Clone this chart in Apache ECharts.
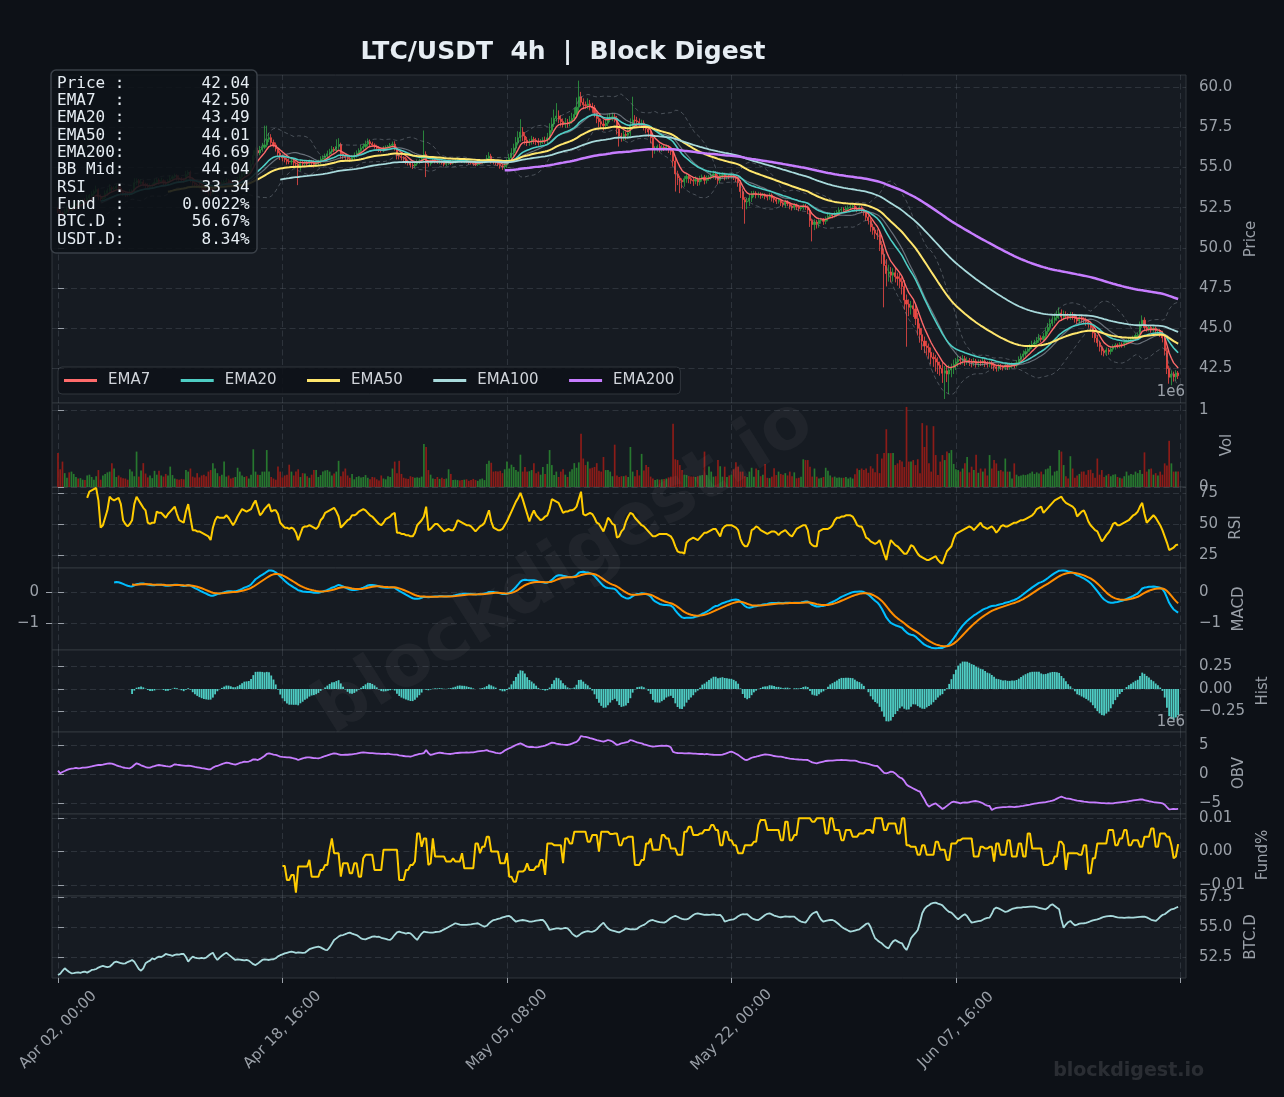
<!DOCTYPE html>
<html><head><meta charset="utf-8">
<script src="https://cdn.jsdelivr.net/npm/echarts/dist/echarts.min.js"></script>
<style>html,body{margin:0;padding:0;background:#0d1117;}#c{width:1284px;height:1097px;}</style>
</head><body><div id="c"></div>
<script>
// ---------------- DATA ----------------
const firstOpen = 52.40;
const closes = [
52.30,52.15,52.10,52.25,52.40,52.35,52.50,52.60,52.72,52.68,
52.85,52.95,52.92,53.10,53.25,53.35,53.50,53.62,53.18,53.05,
53.12,53.38,53.55,53.74,53.66,53.71,53.82,53.69,53.48,53.40,
53.35,53.31,53.44,53.52,54.05,54.18,54.02,54.10,53.96,53.88,
53.80,53.84,53.92,54.06,54.21,54.12,54.18,54.04,54.00,54.15,
54.30,54.42,54.48,54.35,54.28,54.22,54.20,54.55,54.70,54.30,
54.05,53.95,53.90,53.80,53.70,53.62,53.55,53.45,53.42,53.65,
53.92,54.05,54.01,54.06,54.12,54.18,54.08,54.00,53.94,54.05,
54.25,54.40,54.58,54.72,54.68,54.80,55.20,55.75,56.05,55.90,
56.10,56.25,56.40,56.75,56.85,56.55,56.40,56.15,55.90,55.70,
55.60,55.50,55.38,55.35,55.40,55.28,55.22,55.00,55.30,55.25,
55.32,55.25,55.38,55.30,55.20,55.26,55.35,55.52,55.60,55.70,
55.85,55.98,56.12,56.05,56.30,56.42,55.85,55.70,55.62,55.55,
55.50,55.62,55.75,55.90,56.05,56.20,56.30,56.45,56.60,56.48,
56.40,56.32,56.20,56.10,56.05,56.18,56.25,56.30,56.38,56.45,
56.20,55.75,55.70,55.62,55.55,55.40,55.30,55.15,55.10,55.22,
55.35,55.42,55.55,55.80,55.30,55.25,55.38,55.45,55.40,55.32,
55.36,55.28,55.20,55.25,55.30,55.27,55.35,55.40,55.50,55.45,
55.38,55.42,55.35,55.30,55.28,55.22,55.18,55.25,55.30,55.35,
55.40,55.55,55.70,55.42,55.35,55.28,55.20,55.10,55.05,55.15,
55.35,55.60,55.90,56.20,56.55,56.85,57.20,56.95,56.70,56.55,
56.60,56.75,56.70,56.62,56.55,56.60,56.70,56.68,56.85,57.30,
57.70,58.05,58.20,58.00,57.85,57.70,57.80,57.75,57.90,58.05,
58.30,58.75,59.40,59.05,58.90,58.85,58.95,58.80,58.70,58.40,
58.05,57.85,57.70,57.60,57.75,58.00,58.10,58.15,58.05,57.40,
56.95,56.90,57.05,57.00,57.15,57.60,57.95,57.90,57.85,57.70,
57.75,57.55,57.40,57.20,56.85,56.10,56.20,56.30,56.15,56.25,
56.20,56.28,56.10,56.00,55.40,54.60,54.35,54.20,54.10,54.30,
54.45,54.30,54.20,54.15,54.25,54.10,54.30,54.40,54.20,54.35,
54.40,54.50,54.60,54.45,54.20,54.50,54.55,54.40,54.48,54.45,
54.52,54.40,54.30,54.05,53.50,53.00,52.85,52.90,53.10,53.35,
53.40,53.30,53.35,53.25,53.30,53.20,53.15,53.28,53.10,53.00,
52.90,52.95,52.80,52.70,52.85,52.75,52.60,52.50,52.65,52.55,
52.45,52.50,52.60,52.55,52.35,51.70,51.45,51.60,51.50,51.70,
51.75,51.65,51.80,51.95,52.05,52.00,52.10,52.20,52.35,52.40,
52.35,52.45,52.50,52.55,52.60,52.45,52.40,52.50,52.35,52.20,
51.90,51.70,51.30,51.10,50.90,50.80,50.20,49.60,48.90,48.40,
48.50,48.30,48.45,48.20,48.10,47.90,47.60,46.75,46.50,46.30,
46.40,46.20,45.60,45.00,44.60,44.20,43.90,43.80,43.50,43.20,
43.10,42.90,42.70,42.50,42.20,42.35,42.15,42.40,42.55,42.75,
42.90,43.05,43.00,43.10,42.95,43.00,42.90,42.85,42.95,42.80,
42.90,42.85,42.95,42.80,42.75,42.85,42.70,42.60,42.50,42.65,
42.60,42.55,42.70,42.58,42.65,42.75,42.70,42.85,43.05,43.25,
43.40,43.55,43.70,43.85,44.00,44.10,44.25,44.40,44.30,44.50,
44.80,45.05,45.30,45.50,45.65,45.80,45.95,45.70,45.85,45.75,
45.70,45.80,45.75,45.60,45.45,45.65,45.55,45.50,45.40,45.25,
45.05,44.70,44.40,44.10,43.85,43.60,43.50,43.65,43.55,43.70,
43.85,43.95,43.90,44.00,43.95,44.10,44.20,44.25,44.30,44.40,
44.55,44.60,45.20,45.50,45.05,44.95,45.05,44.90,45.00,44.85,
44.85,44.70,44.40,43.60,42.50,41.95,42.15,41.98,42.22,42.04];
// upper / lower wick length beyond the candle body, in cents
const wickUp = [
12,18,9,15,22,8,14,11,20,10, 16,9,13,21,10,17,12,25,8,14, 11,19,15,22,9,13,18,10,16,12, 8,14,20,11,28,15,10,18,12,9,
13,17,10,22,14,11,19,8,15,12, 20,10,14,9,16,12,11,24,13,10, 9,15,11,13,10,12,16,9,11,18, 22,13,10,15,12,17,9,11,14,10,
16,20,14,12,18,15,26,32,20,18, 24,28,120,85,30,22,18,15,12,14, 10,12,9,18,14,11,10,9,20,13, 12,15,11,9,14,10,13,18,15,16,
20,18,22,15,45,40,12,10,14,9, 11,15,18,16,14,20,18,22,20,14, 12,10,9,13,11,15,12,10,14,16, 18,10,9,12,8,10,9,11,14,12,
15,12,18,150,20,12,10,14,9,8, 10,9,8,11,12,9,10,14,12,9, 8,10,9,7,10,8,9,11,10,12, 9,22,25,15,10,12,8,9,10,14,
20,25,30,28,35,40,80,30,25,20, 18,22,15,14,20,16,18,22,30,45, 40,55,80,35,25,20,28,22,30,35, 40,60,100,30,25,20,35,25,22,18,
15,20,18,25,22,30,28,25,20,15, 18,20,25,15,30,45,145,30,25,20, 22,18,15,12,10,15,14,12,18,15, 12,14,10,12,15,18,20,14,12,16,
18,14,12,15,20,12,18,16,14,15, 12,18,20,15,12,16,14,12,15,10, 12,10,9,14,18,20,15,22,25,18, 15,12,14,10,12,9,11,15,10,12,
9,12,10,8,14,11,10,9,13,10, 12,10,14,12,9,15,12,18,14,16, 12,10,15,18,14,12,16,15,18,14, 12,15,14,12,10,9,12,14,10,9,
10,12,15,20,18,25,30,22,35,40, 45,30,28,35,25,30,28,40,35,30, 30,28,25,35,30,40,28,32,25,30, 28,25,30,22,35,30,28,32,25,30,
25,22,20,24,18,20,15,18,20,14, 16,14,18,12,15,14,12,15,10,14, 12,10,15,12,14,12,10,16,20,18, 22,18,20,16,22,18,20,25,15,20,
25,28,30,25,28,30,35,22,25,20, 18,22,20,15,18,20,15,14,16,12, 14,12,15,18,12,10,14,16,12,15, 14,12,10,13,12,14,11,12,10,14,
12,15,22,30,18,15,12,14,12,10, 12,10,14,15,20,18,22,15,18,12];
const wickDn = [
14,10,20,9,12,16,8,18,11,13, 10,15,12,8,14,9,13,10,22,16, 12,9,15,11,18,10,14,12,20,15, 18,12,9,15,10,14,20,11,13,16,
15,10,13,9,12,18,11,15,10,14, 12,14,9,16,11,13,15,10,12,22, 18,13,15,10,14,12,15,18,20,11, 10,12,14,9,11,13,15,12,18,10,
12,10,13,15,11,14,12,10,15,18, 14,12,10,15,18,22,15,16,20,24, 22,18,20,15,18,22,25,110,20,18, 15,18,12,16,20,14,12,15,10,12,
10,12,14,11,12,15,30,20,18,15, 16,12,10,14,12,11,10,12,15,14, 12,15,16,14,12,10,11,12,14,10, 15,25,20,18,15,20,18,16,20,12,
12,14,10,15,90,20,14,12,15,10, 12,10,14,11,10,12,9,10,12,11, 10,12,9,11,10,12,10,9,10,8, 10,12,15,18,16,14,12,18,20,15,
18,15,14,20,22,18,25,30,28,22, 20,18,25,22,20,18,15,20,18,14, 15,18,20,25,30,22,25,28,20,18, 15,18,22,25,28,20,22,25,30,28,
30,35,28,30,25,20,18,22,25,35, 65,30,25,28,22,20,25,28,30,25, 22,25,28,30,35,50,25,22,20,18, 18,16,20,22,35,110,45,80,40,30,
25,28,22,30,20,25,22,18,25,20, 18,15,20,22,25,18,16,20,15,18, 15,18,20,25,40,60,135,45,30,25, 20,22,18,20,15,18,20,16,22,20,
18,15,20,18,22,16,20,18,15,20, 18,15,14,18,25,40,105,35,30,25, 20,22,18,15,14,16,12,15,14,12, 14,12,15,14,12,15,18,14,16,20,
22,25,30,28,35,30,40,60,260,80, 50,45,40,35,45,40,50,60,265,55, 45,50,40,45,50,55,45,50,40,45, 50,60,55,45,60,160,50,125,45,40,
35,30,28,25,30,22,25,28,20,25, 22,20,18,22,20,18,22,25,20,18, 20,18,15,18,16,15,18,14,12,15, 14,16,12,15,14,16,12,15,18,14,
15,18,20,16,20,18,22,25,20,18, 20,18,22,25,20,18,22,20,25,22, 25,30,28,25,30,28,25,22,20,18, 16,18,15,14,16,15,14,12,14,12,
14,12,15,18,20,16,15,18,14,20, 22,25,28,30,35,40,50,30,25,20];
// volume, thousands of LTC
const volK = [
440,230,330,180,120,190,200,170,130,110, 115,95,90,150,160,130,95,140,220,95, 150,170,190,200,310,240,130,150,125,115, 110,95,230,200,140,460,135,215,310,175,
125,150,115,210,160,210,150,135,170,150, 265,155,110,100,95,105,100,220,200,240, 135,125,180,125,150,160,140,200,220,310, 240,180,140,160,330,135,150,110,120,130,
250,200,150,130,140,110,160,490,200,160, 155,200,200,480,200,130,110,95,265,200, 125,150,160,290,200,150,200,230,130,180, 175,140,120,160,220,220,130,155,200,215,
220,200,150,175,200,340,140,200,240,150, 120,170,100,130,140,125,130,155,120,100, 130,125,100,85,150,110,100,140,130,240, 330,180,340,170,120,110,105,140,130,120,
125,120,135,560,520,220,160,110,105,130, 105,120,105,110,230,170,90,95,90,85, 90,95,100,80,90,105,90,80,100,110, 90,300,340,315,200,205,200,210,180,230,
330,240,290,260,220,200,420,200,260,200, 205,220,310,180,200,160,260,170,300,480, 285,155,200,130,200,230,160,130,200,230, 310,250,320,690,370,285,330,240,250,260,
310,210,200,390,220,220,200,140,550,150, 130,140,140,150,130,520,200,140,220,150, 430,215,285,260,135,110,90,100,95,100, 105,110,125,135,820,360,350,285,220,160,
155,140,135,135,130,140,150,155,460,155, 265,200,134,140,350,270,134,264,130,150, 160,230,320,264,200,200,140,130,200,250, 134,240,220,140,160,300,120,115,134,245,
155,200,170,160,180,150,200,140,190,113, 120,134,360,350,350,264,135,240,134,110, 120,130,250,210,150,125,135,120,125,120, 120,130,110,125,110,165,240,220,240,220,
240,185,270,240,190,430,180,370,440,750, 440,440,440,285,307,350,330,260,1040,330, 330,350,285,360,180,830,520,800,307,200, 790,415,156,330,415,350,460,440,480,300,
230,220,200,240,307,390,190,264,220,420, 185,240,200,240,150,415,240,350,307,210, 220,200,370,200,200,110,307,160,140,150, 160,155,165,180,200,170,190,175,200,165,
230,240,275,150,200,210,480,460,285,140, 110,400,240,120,150,170,200,200,160,220, 225,180,120,370,160,220,130,150,170,140, 160,165,130,120,110,140,200,150,170,160,
200,180,220,170,450,200,230,240,160,180, 150,200,160,307,280,600,307,200,200,200];
// RSI(14), first value at candle 13
const rsiStart = 13;
const rsiVals = [
71,76,77,78,79,69,47,
49,55,61,72,70,69,70,71,66,53, 50,48,50,53,66,72,69,66,63,61, 51,50,51,51,60,59,59,57,55,58, 60,62,64,58,53,52,51,60,66,55,
45,45,44,44,43,42,41,40,37,47, 53,56,55,55,55,57,55,52,49,52, 56,59,62,61,60,61,62,66,69,63, 57,59,62,64,66,60,61,61,58,51,
49,47,47,46,47,46,43,37,42,47, 48,48,49,48,47,46,48,53,55,59, 60,61,62,63,60,56,47,49,51,53, 54,57,57,58,60,61,62,61,59,57,
56,54,52,50,49,51,54,55,56,58, 59,43,43,42,42,41,41,40,40,43, 49,51,53,56,64,45,46,48,50,50, 48,46,44,45,46,45,45,48,53,52,
51,50,49,49,48,46,44,46,48,49, 51,56,61,52,47,46,45,45,46,49, 52,56,60,64,68,71,75,70,64,58, 52,57,61,57,55,53,54,56,57,62,
70,69,68,67,63,59,60,60,61,61, 62,64,70,76,58,57,58,59,58,55, 51,50,47,44,49,55,53,50,49,39, 40,44,46,52,56,59,58,55,53,51,
49,48,46,44,42,40,40,41,42,42, 42,42,41,40,37,32,28,27,27,26, 35,37,38,39,38,37,39,41,43,43, 44,45,46,46,43,40,46,48,49,49,
49,48,47,45,38,34,32,32,36,45, 46,48,47,45,44,43,42,43,44,44, 43,41,43,44,45,43,41,40,43,46, 47,48,49,49,45,35,33,32,32,44,
45,46,46,46,47,49,53,55,55,56, 56,57,57,57,56,53,49,48,48,44, 39,38,36,35,34,35,37,32,26,21, 30,37,35,33,32,30,28,26,26,29,
33,32,29,26,24,23,22,21,21,22, 23,24,21,19,18,23,28,30,32,38, 42,43,44,45,46,47,48,47,45,47, 49,51,48,47,46,47,48,46,43,45,
48,49,48,48,49,50,51,51,52,53, 53,54,55,56,57,59,62,63,64,59, 61,63,65,67,69,70,71,72,69,67, 66,65,64,62,56,58,60,61,57,52,
49,47,45,44,40,36,38,41,43,46, 50,51,49,49,50,51,52,53,55,57, 58,60,64,67,58,51,53,55,57,55, 52,49,45,40,35,29,30,31,33,33.34];
// OBV, millions
const obvM = [
0.57,0.11,0.35,0.52,0.70,0.85,0.92,0.98,1.05,0.95, 1.02,1.10,1.08,1.15,1.22,1.30,1.40,1.48,1.55,1.55, 1.62,1.70,1.78,1.84,1.80,1.67,1.50,1.35,1.25,1.12, 1.05,1.00,0.98,1.20,1.55,1.84,1.70,1.50,1.35,1.20,
1.10,1.09,1.25,1.35,1.48,1.55,1.50,1.42,1.35,1.30, 1.26,1.45,1.67,1.60,1.55,1.50,1.45,1.38,1.45,1.38, 1.30,1.22,1.15,1.08,1.00,0.95,0.88,0.80,0.82,1.10, 1.30,1.38,1.55,1.70,1.85,1.95,1.90,1.80,1.70,1.61,
1.75,1.90,2.00,2.13,2.08,2.15,2.30,2.53,2.50,2.41, 2.60,2.85,3.10,3.45,3.56,3.45,3.35,3.28,3.15,2.99, 2.95,2.92,2.88,2.87,2.80,2.70,2.60,2.41,2.55,2.70, 2.80,2.87,2.85,2.80,2.75,2.72,2.70,2.80,2.95,3.10,
3.20,3.35,3.45,3.56,3.50,3.40,3.28,3.30,3.35,3.32, 3.36,3.39,3.45,3.52,3.60,3.68,3.74,3.70,3.65,3.60, 3.58,3.56,3.52,3.50,3.48,3.46,3.45,3.50,3.42,3.38, 3.35,3.33,3.20,3.15,3.10,3.05,3.02,2.99,3.10,3.25,
3.35,3.45,3.50,3.60,4.14,3.60,3.28,3.40,3.50,3.60, 3.68,3.62,3.55,3.50,3.48,3.45,3.52,3.58,3.62,3.66, 3.68,3.70,3.72,3.70,3.72,3.74,3.80,3.88,3.95,4.00, 4.02,4.10,3.95,3.85,3.75,3.65,3.58,3.56,3.75,4.05,
4.25,4.43,4.60,4.80,5.00,5.15,5.29,5.10,4.90,4.71, 4.65,4.68,4.62,4.60,4.65,4.72,4.80,4.89,5.05,5.25, 5.40,5.35,5.25,5.17,5.10,5.05,5.02,5.00,5.10,5.25, 5.40,5.55,5.90,6.55,6.45,6.40,6.32,6.20,6.10,5.98,
5.85,5.75,5.65,5.57,5.70,5.86,5.75,5.60,5.30,5.00, 5.10,5.29,5.35,5.45,5.55,5.86,5.75,5.60,5.45,5.35, 5.29,5.10,5.00,4.90,4.80,4.71,4.75,4.80,4.85,4.89, 4.85,4.89,4.80,4.60,3.80,3.68,3.62,3.60,3.58,3.56,
3.56,3.58,3.56,3.52,3.50,3.48,3.45,3.45,3.40,3.45, 3.40,3.35,3.32,3.30,3.28,3.28,3.35,3.45,3.60,3.75, 3.85,3.70,3.50,3.30,3.00,2.70,2.45,2.41,2.60,2.80, 2.90,2.99,3.10,3.20,3.30,3.39,3.35,3.30,3.20,3.10,
3.05,3.00,2.99,2.90,2.80,2.72,2.65,2.60,2.55,2.53, 2.50,2.48,2.45,2.42,2.41,2.20,2.00,1.90,1.84,1.95, 2.05,2.15,2.24,2.28,2.30,2.32,2.35,2.38,2.40,2.41, 2.40,2.38,2.35,2.32,2.30,2.30,2.20,2.05,1.95,1.90,
1.84,1.75,1.60,1.50,1.40,1.38,1.00,0.60,0.20,0.11, 0.25,0.40,0.35,0.10,-0.30,-0.60,-0.75,-1.20,-1.80,-2.10, -2.30,-2.50,-2.70,-2.90,-3.05,-3.80,-4.40,-5.20,-5.63,-5.40, -5.20,-5.06,-5.40,-5.70,-6.03,-5.80,-5.50,-5.20,-4.90,-4.77,
-4.85,-4.95,-5.05,-4.95,-4.90,-4.94,-4.85,-4.75,-4.70,-4.66, -4.75,-4.90,-5.05,-5.30,-5.45,-5.52,-6.21,-6.00,-5.85,-5.80, -5.75,-5.72,-5.70,-5.68,-5.65,-5.66,-5.70,-5.65,-5.63,-5.55, -5.48,-5.40,-5.35,-5.28,-5.20,-5.12,-5.06,-5.00,-4.95,-4.90,
-4.85,-4.75,-4.68,-4.60,-4.45,-4.25,-4.05,-3.91,-4.05,-4.20, -4.25,-4.31,-4.40,-4.50,-4.60,-4.65,-4.70,-4.77,-4.80,-4.85, -4.88,-4.90,-4.92,-4.94,-4.98,-5.02,-5.04,-5.06,-5.05,-5.06, -5.06,-5.00,-4.95,-4.90,-4.85,-4.80,-4.77,-4.70,-4.62,-4.55,
-4.50,-4.45,-4.40,-4.37,-4.50,-4.60,-4.70,-4.77,-4.85,-4.90, -4.95,-5.00,-5.06,-5.30,-5.70,-6.09,-6.05,-6.00,-6.05,-6.03];
// BTC dominance, %
const btcDom = [
51.00,51.10,51.35,51.56,51.40,51.25,51.14,51.15,51.20,51.22, 51.18,51.25,51.28,51.20,51.30,51.42,51.45,51.50,51.62,51.70, 51.75,51.70,51.65,51.69,51.85,52.05,52.11,52.05,51.98,51.95, 51.97,52.08,52.15,52.25,52.10,51.80,51.50,51.36,51.55,51.97,
52.10,52.20,52.39,52.30,52.45,52.53,52.50,52.60,52.75,52.70, 52.65,52.60,52.67,52.72,52.70,52.75,52.75,52.50,52.11,52.35, 52.53,52.45,52.40,52.38,52.42,52.39,52.45,52.60,52.75,52.86, 52.50,52.25,52.45,52.60,52.75,52.86,52.70,52.55,52.40,52.25,
52.30,52.28,52.25,52.22,52.25,52.20,52.05,51.90,51.83,51.95, 52.10,52.25,52.30,52.28,52.25,52.30,52.31,52.40,52.55,52.65, 52.72,52.80,52.85,52.90,52.94,52.90,52.85,52.88,52.86,52.84, 52.86,53.00,53.15,53.22,53.28,53.32,53.36,53.30,53.20,53.10,
53.08,53.30,53.60,53.92,54.05,54.20,54.30,54.33,54.40,54.48, 54.53,54.45,54.38,54.33,54.20,54.05,53.98,53.97,54.05,54.12, 54.19,54.22,54.18,54.19,54.10,54.05,54.00,53.95,53.92,54.10, 54.35,54.55,54.61,54.55,54.50,54.45,54.50,54.47,54.30,54.10,
53.92,54.20,54.45,54.61,54.58,54.55,54.53,54.53,54.58,54.60, 54.61,54.70,54.80,54.89,55.00,55.10,55.20,55.31,55.25,55.20, 55.18,55.17,55.17,55.20,55.22,55.25,55.28,55.31,55.20,55.10, 55.03,55.10,55.30,55.45,55.58,55.62,55.68,55.72,55.80,55.85,
55.90,55.92,55.80,55.60,55.44,55.50,55.55,55.58,55.55,55.50, 55.44,55.45,55.48,55.52,55.55,55.58,55.58,55.40,55.10,54.75, 54.80,54.85,54.88,54.89,54.85,54.88,54.92,54.89,54.70,54.45, 54.30,54.19,54.30,54.45,54.55,54.61,54.65,54.62,54.60,54.67,
54.80,55.00,55.20,55.36,55.10,54.89,54.75,54.70,54.65,54.60, 54.55,54.65,54.75,54.89,54.85,54.80,54.82,54.80,54.85,55.00, 55.10,55.17,55.30,55.45,55.55,55.58,55.50,55.45,55.40,55.38, 55.36,55.45,55.60,55.75,55.85,55.92,55.85,55.75,55.68,55.64,
55.64,55.70,55.85,56.00,56.10,56.14,56.10,56.05,56.00,56.02, 56.00,56.02,56.05,56.00,55.98,56.00,55.80,55.44,55.50,55.58, 55.62,55.64,55.75,55.90,56.00,56.06,56.05,56.06,55.90,55.75, 55.65,55.60,55.58,55.70,55.85,56.00,56.10,56.14,56.05,55.95,
55.90,55.85,55.81,55.85,55.88,55.86,55.85,55.86,55.86,55.70, 55.55,55.45,55.40,55.36,55.60,55.90,56.10,56.20,56.28,55.90, 55.60,55.44,55.50,55.55,55.58,55.58,55.50,55.35,55.20,55.03, 54.90,54.80,54.70,54.61,54.65,54.70,54.75,54.80,54.95,55.10,
55.25,55.31,55.00,54.50,54.06,53.90,53.75,53.64,53.45,53.30, 53.22,53.55,53.80,53.92,53.80,53.70,53.64,53.30,53.08,53.50, 54.06,54.30,54.50,54.75,55.40,56.14,56.50,56.70,56.81,56.95, 57.00,57.03,56.95,56.89,56.80,56.60,56.40,56.25,56.19,56.00,
55.80,55.64,55.80,55.95,56.06,55.90,55.60,55.36,55.40,55.45, 55.48,55.50,55.60,55.70,55.75,55.78,56.10,56.50,56.61,56.55, 56.45,56.35,56.25,56.30,56.40,56.50,56.55,56.60,56.61,56.62, 56.65,56.66,56.68,56.69,56.69,56.69,56.65,56.60,56.55,56.50,
56.47,56.60,56.80,56.89,56.75,56.60,56.47,55.60,54.94,55.20, 55.40,55.50,55.30,55.14,55.20,55.28,55.30,55.31,55.35,55.40, 55.48,55.55,55.60,55.64,55.70,55.78,55.85,55.88,55.90,55.92, 55.90,55.85,55.80,55.78,55.78,55.76,55.78,55.80,55.78,55.78,
55.80,55.82,55.84,55.85,55.86,55.80,55.70,55.60,55.55,55.50, 55.65,55.85,56.00,56.06,56.20,56.35,56.47,56.50,56.60,56.67];
// funding rate in units of 0.0001 %, first value at candle 100
const fundStart = 100;
const fundE4 = [
-43,-43,-85,-85,-70,-70,-123,-45,-45,-45, -45,-45,-25,-75,-75,-75,-75,-55,-55,-40, -40,5,39,-5,-5,-5,-75,-35,-35,-35, -65,-65,-35,-35,-75,-75,-20,-10,-10,-10,
-10,-55,-55,-55,-55,5,5,5,5,5, 5,5,-85,-85,-85,-55,-55,-40,-40,-30, 54,54,14,39,39,-40,-35,39,-15,-15, -15,-15,-15,-30,-30,-30,-20,-30,-30,-30,
-5,-50,-50,-50,-50,-50,24,24,-5,14, 14,44,44,0,0,0,0,-35,-35,-35, -5,-75,-75,-90,-90,-60,-60,-60,-55,-35, -55,-55,-55,-45,-45,-25,-25,-70,24,24,
24,19,19,19,19,-35,39,39,24,24, 59,59,59,59,59,59,29,29,49,49, 49,0,59,59,59,59,52,52,54,54, 19,19,39,39,44,44,44,-40,-40,-40,
-25,-25,24,24,39,5,5,5,5,49, 49,39,39,9,9,9,-10,-10,-10,59, 59,74,74,49,49,49,54,54,64,64, 64,79,79,64,64,19,19,59,59,34,
34,19,19,-5,-5,-5,19,19,19,19, 29,29,79,94,94,94,64,64,64,64, 64,64,34,34,89,89,34,34,49,49, 99,99,99,99,99,99,89,89,99,99,
99,99,54,54,99,99,64,64,64,34, 34,64,64,64,44,44,44,54,54,54, 64,64,64,54,99,99,99,99,64,64, 84,84,84,84,54,54,99,99,19,19,
14,14,14,-10,-10,19,19,-10,-10,-10, -10,29,29,5,5,5,-25,-25,24,24, 24,34,34,39,39,39,39,39,-15,-15, -15,14,14,9,9,14,14,-30,24,24,
-10,-10,-10,34,34,-15,-15,-15,24,24, -15,-15,54,54,9,9,9,9,9,-40, -40,-40,-35,-35,-15,-15,29,29,19,-55, -5,-5,-5,-5,-5,-10,-10,19,19,-65,
-65,-20,-20,24,24,24,24,24,64,64, 64,19,19,39,39,64,64,19,19,34, 34,34,14,14,44,44,44,69,69,14, 14,54,54,54,44,44,19,-20,-15,22];

const xTicks = [0, 100, 200, 300, 400, 500];
const xTickLabels = ['Apr 02, 00:00', 'Apr 18, 16:00', 'May 05, 08:00', 'May 22, 00:00', 'Jun 07, 16:00', ''];
const priceTicks = [42.5, 45, 47.5, 50, 52.5, 55, 57.5, 60];
const volTicks = [0, 1];
const rsiTicks = [25, 50, 75];
const macdTicks = [-1, 0];
const histTicks = [-0.25, 0, 0.25];
const obvTicks = [-5, 0, 5];
const fundTicks = [-0.01, 0, 0.01];
const btcdTicks = [52.5, 55, 57.5];
const infoLines = [
  'Price :        42.04', 'EMA7  :        42.50', 'EMA20 :        43.49', 'EMA50 :        44.01', 'EMA200:        46.69',
  'BB Mid:        44.04', 'RSI   :        33.34', 'Fund  :      0.0022%', 'BTC.D :       56.67%', 'USDT.D:        8.34%'];
const titleText = 'LTC/USDT  4h  |  Block Digest';

// ---------------- checks ----------------
const lens = {closes: closes.length, wickUp: wickUp.length, wickDn: wickDn.length, volK: volK.length, rsi: rsiVals.length + rsiStart, obv: obvM.length, btc: btcDom.length, fund: fundE4.length + fundStart};
for (const k in lens) if (lens[k] !== 500) throw new Error('length mismatch ' + JSON.stringify(lens));

// ---------------- derived ----------------
const N = closes.length;
const opens = closes.map((c, i) => (i === 0 ? firstOpen : closes[i - 1]));
const highs = closes.map((c, i) => Math.max(c, opens[i]) + wickUp[i] / 100);
const lows = closes.map((c, i) => Math.min(c, opens[i]) - wickDn[i] / 100);
function ema(src, span) {
  const a = 2 / (span + 1); const out = []; let p = null;
  for (let i = 0; i < src.length; i++) { p = p === null ? src[i] : a * src[i] + (1 - a) * p; out.push(p); }
  return out;
}
function pts(arr, start) { const d = []; for (let i = start; i < arr.length; i++) if (arr[i] != null) d.push([i, arr[i]]); return d; }
const bbMid = [], bbUp = [], bbLo = [];
for (let i = 0; i < N; i++) {
  if (i < 19) { bbMid.push(null); bbUp.push(null); bbLo.push(null); continue; }
  const w = closes.slice(i - 19, i + 1); const m = w.reduce((a, b) => a + b, 0) / 20;
  const sd = Math.sqrt(w.reduce((a, b) => a + (b - m) * (b - m), 0) / 19);
  bbMid.push(m); bbUp.push(m + 2 * sd); bbLo.push(m - 2 * sd);
}
const e12 = ema(closes, 12), e26 = ema(closes, 26);
const macdStart = 25;
const macdLine = closes.map((_, i) => e12[i] - e26[i]);
const sigE = ema(macdLine.slice(macdStart), 9);
const signal = closes.map((_, i) => (i < macdStart ? null : sigE[i - macdStart]));
const sigStart = macdStart + 8;
const hist = closes.map((_, i) => (i < sigStart ? null : macdLine[i] - signal[i]));

// ---------------- style ----------------
const FONT = 'DejaVu Sans';
const AX = '#9aa0a8';
const GRIDC = 'rgba(139,148,158,0.2)';
const UP = '#2ea043', DN = '#f04a45', VUP = '#27782f', VDN = '#8c1c18';
const XMIN = -2.67, XMAX = 502.5;
const panels = [[75, 328], [403, 84], [487, 81], [568, 82], [650, 82], [732, 82], [814, 82], [896, 82]];
const minus = s => String(s).replace('-', '\u2212');

const grid = panels.map(p => ({left: 52, width: 1134, top: p[0], height: p[1], show: true,
  backgroundColor: '#161b22', borderColor: '#30363d', borderWidth: 1}));
const xAxis = panels.map((p, k) => ({
  type: 'value', gridIndex: k, min: XMIN, max: XMAX,
  axisLine: {show: false}, splitLine: {show: false},
  axisTick: {show: k === 7, customValues: xTicks, length: 5, lineStyle: {color: AX}},
  axisLabel: {show: k === 7, customValues: xTicks, formatter: v => xTickLabels[xTicks.indexOf(v)] || '',
    rotate: 45, align: 'center', verticalAlign: 'middle', margin: 52, color: AX, fontSize: 15, fontFamily: FONT}
}));
function yAx(k, min, max, ticks, name, gap, fmt, pos) {
  return {type: 'value', gridIndex: k, position: pos || 'right', min, max,
    axisLine: {show: false}, splitLine: {show: false},
    axisTick: {show: true, customValues: ticks, length: 6, lineStyle: {color: AX}},
    axisLabel: {customValues: ticks, formatter: v => minus(fmt(v)), color: AX, fontSize: 15, fontFamily: FONT, margin: 13},
    name: name, nameLocation: 'middle', nameRotate: 90, nameGap: gap,
    nameTextStyle: {color: AX, fontSize: 15, fontFamily: FONT}};
}
const yAxis = [
  yAx(0, 40.35, 60.75, priceTicks, 'Price', 56, v => v.toFixed(1)),
  yAx(1, 0, 1.091, volTicks, 'Vol', 28, v => v.toFixed(0)),
  yAx(2, 14.5, 79.8, rsiTicks, 'RSI', 40, v => v.toFixed(0)),
  yAx(3, -1.841, 0.762, macdTicks, 'MACD', 44, v => v.toFixed(0)),
  yAx(4, -0.478, 0.433, histTicks, 'Hist', 70, v => v.toFixed(2)),
  yAx(5, -6.9, 7.24, obvTicks, 'OBV', 43, v => v.toFixed(0)),
  yAx(6, -0.01328, 0.0112, fundTicks, 'Fund%', 70, v => v.toFixed(2)),
  yAx(7, 50.75, 57.58, btcdTicks, 'BTC.D', 56, v => v.toFixed(1)),
  yAx(3, -1.841, 0.762, macdTicks, '', 0, v => v.toFixed(0), 'left')
];
const panelYTicks = [priceTicks, volTicks, rsiTicks, macdTicks, histTicks, obvTicks, fundTicks, btcdTicks];
const series = [];
panelYTicks.forEach((yt, k) => series.push({
  type: 'line', xAxisIndex: k, yAxisIndex: k, data: [], silent: true, z: 1,
  markLine: {silent: true, z: 1, animation: false, symbol: ['none', 'none'], label: {show: false},
    lineStyle: {color: GRIDC, width: 1, type: [6, 3.5]},
    data: yt.map(v => ({yAxis: v})).concat(xTicks.map(v => ({xAxis: v})))}
}));
function line(k, data, color, width, extra) {
  return Object.assign({type: 'line', xAxisIndex: k, yAxisIndex: k, data, showSymbol: false, symbol: 'none',
    color, lineStyle: {color, width}, silent: true, z: 3}, extra || {});
}
// price panel
series.push({type: 'candlestick', xAxisIndex: 0, yAxisIndex: 0, z: 2, silent: true, barWidth: 1.6,
  data: closes.map((c, i) => [i, opens[i], c, lows[i], highs[i]]), encode: {x: 0, y: [1, 2, 3, 4]},
  itemStyle: {color: UP, color0: DN, borderColor: UP, borderColor0: DN, borderWidth: 0.8}});
series.push(line(0, pts(bbUp, 19), 'rgba(139,148,158,0.45)', 1, {lineStyle: {color: 'rgba(139,148,158,0.45)', width: 1, type: [4, 3]}}));
series.push(line(0, pts(bbLo, 19), 'rgba(139,148,158,0.45)', 1, {lineStyle: {color: 'rgba(139,148,158,0.45)', width: 1, type: [4, 3]}}));
series.push(line(0, pts(bbMid, 19), 'rgba(139,148,158,0.7)', 1.2));
const emaSpans = [7, 20, 50, 100, 200];
const emaColors = ['#ff6b6b', '#4ecdc4', '#ffe66d', '#a8dadc', '#c77dff'];
const emaWidths = [1.4, 1.6, 2, 1.8, 2.5];
emaSpans.forEach((s, j) => series.push(line(0, pts(ema(closes, s), s - 1), emaColors[j], emaWidths[j], {name: 'EMA' + s, z: 4})));
// volume
series.push({type: 'bar', xAxisIndex: 1, yAxisIndex: 1, barWidth: 1.7, silent: true, z: 2,
  data: volK.map((v, i) => ({value: [i, v / 1000], itemStyle: {color: closes[i] >= opens[i] ? VUP : VDN}}))});
// RSI
series.push(line(2, rsiVals.map((v, j) => [j + rsiStart, v]), '#ffcc00', 2));
// MACD
series.push(line(3, pts(macdLine, macdStart), '#00bfff', 2));
series.push(line(3, pts(signal, sigStart), '#ff8c00', 2));
// hist
series.push({type: 'bar', xAxisIndex: 4, yAxisIndex: 4, barWidth: 1.8, silent: true, z: 2,
  itemStyle: {color: '#4ecdc4'}, data: pts(hist, sigStart)});
// OBV
series.push(line(5, obvM.map((v, i) => [i, v]), '#c77dff', 1.8));
// funding
series.push(line(6, fundE4.map((v, j) => [j + fundStart, v / 10000]), '#ffcc00', 2));
// BTC.D
series.push(line(7, btcDom.map((v, i) => [i, v]), '#a8dadc', 1.8));

const graphic = [
  {type: 'text', x: 563, y: 52, z: 100, style: {text: titleText, font: 'bold 25px "DejaVu Sans"', fill: '#e6edf3', align: 'center', verticalAlign: 'middle', textAlign: 'center', textVerticalAlign: 'middle'}},
  {type: 'rect', z: 100, shape: {x: 51, y: 70, width: 206, height: 183, r: 5}, style: {fill: 'rgba(13,17,23,0.88)', stroke: '#3a4048', lineWidth: 1.5}},
  {type: 'text', x: 1185, y: 392, z: 100, style: {text: '1e6', font: '15px "DejaVu Sans"', fill: AX, align: 'right', verticalAlign: 'middle', textAlign: 'right', textVerticalAlign: 'middle'}},
  {type: 'text', x: 1185, y: 722, z: 100, style: {text: '1e6', font: '15px "DejaVu Sans"', fill: AX, align: 'right', verticalAlign: 'middle', textAlign: 'right', textVerticalAlign: 'middle'}},
  {type: 'text', x: 565, y: 568, z: 90, rotation: 32 * Math.PI / 180, style: {text: 'blockdigest.io', font: 'bold 72px "DejaVu Sans"', fill: 'rgba(255,255,255,0.045)', align: 'center', verticalAlign: 'middle', textAlign: 'center', textVerticalAlign: 'middle'}},
  {type: 'text', x: 1204, y: 1071, z: 90, style: {text: 'blockdigest.io', font: 'bold 19px "DejaVu Sans"', fill: 'rgba(255,255,255,0.12)', align: 'right', verticalAlign: 'middle', textAlign: 'right', textVerticalAlign: 'middle'}}
].concat(infoLines.map((t, k) => ({type: 'text', x: 57, y: 83.5 + 17.33 * k, z: 101,
  style: {text: t, font: '16px "DejaVu Sans Mono"', fill: '#e6edf3', verticalAlign: 'middle', textVerticalAlign: 'middle'}})));

const chart = echarts.init(document.getElementById('c'), null, {renderer: 'canvas', width: 1284, height: 1097});
chart.setOption({
  backgroundColor: '#0d1117', animation: false,
  textStyle: {fontFamily: FONT},
  grid, xAxis, yAxis, series, graphic,
  legend: {left: 58, top: 367, padding: [6, 6, 6, 6], itemGap: 30.5, itemWidth: 33, itemHeight: 3, icon: 'rect',
    backgroundColor: 'rgba(13,17,23,0.85)', borderColor: '#30363d', borderWidth: 1, borderRadius: 4,
    textStyle: {color: '#d0d4da', fontSize: 15, fontFamily: FONT, padding: [0, 0, 0, 6]},
    data: ['EMA7', 'EMA20', 'EMA50', 'EMA100', 'EMA200'], selectedMode: false}
});
</script></body></html>
